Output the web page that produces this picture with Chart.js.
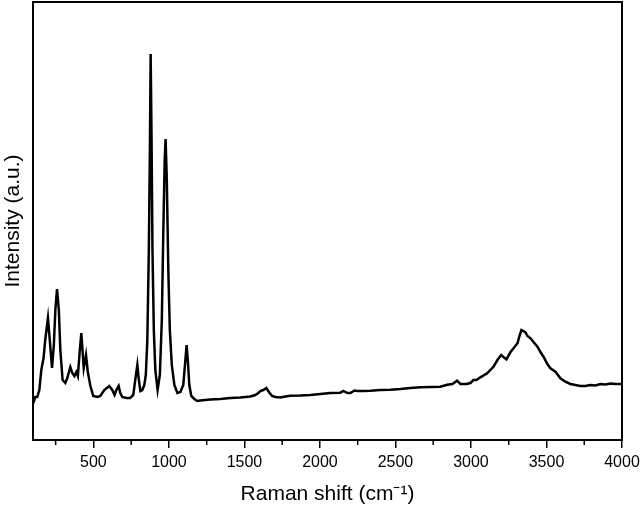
<!DOCTYPE html>
<html lang="en">
<head>
<meta charset="UTF-8">
<title>Raman spectrum</title>
<script src="https://cdn.jsdelivr.net/npm/chart.js"></script>
<style>
  html, body { margin: 0; padding: 0; background: #fff; }
  #wrap { width: 640px; height: 510px; }
</style>
</head>
<body>
<div id="wrap"><canvas id="raman"></canvas></div>
<script>
// Raman shift (cm-1)
const ramanShift = [
  102, 115, 128, 142, 155, 170, 181, 199, 211, 226, 238, 248, 259, 271, 281, 296,
  314, 327, 347, 360, 374, 387, 397, 410, 420, 430, 436, 451, 463, 480, 499, 526,
  546, 572, 605, 625, 640, 652, 667, 678, 691, 718, 744, 764, 777, 791, 801, 811,
  824, 837, 847, 857, 867, 874, 879, 885, 891, 900, 910, 925, 940, 953, 963, 972,
  978, 986, 996, 1006, 1019, 1036, 1056, 1076, 1095, 1109, 1117, 1125, 1135, 1148, 1168, 1188,
  1208, 1241, 1274, 1341, 1407, 1473, 1539, 1572, 1592, 1605, 1625, 1645, 1662, 1683, 1705, 1738,
  1771, 1804, 1870, 1937, 2003, 2069, 2135, 2155, 2182, 2202, 2228, 2248, 2281, 2334, 2400, 2466,
  2533, 2599, 2665, 2731, 2797, 2843, 2877, 2908, 2930, 2970, 2996, 3016, 3036, 3062, 3107, 3129,
  3149, 3175, 3200, 3215, 3235, 3262, 3282, 3308, 3321, 3334, 3347, 3361, 3374, 3394, 3414, 3440,
  3460, 3480, 3506, 3526, 3559, 3592, 3625, 3658, 3691, 3724, 3757, 3790, 3824, 3857, 3890, 3923,
  3956, 3996
];

// intensity (a.u.)
const intensity = [
  37, 43, 43, 50, 70, 82, 100, 122, 100, 72, 95, 130, 151, 130, 90, 60,
  57, 62, 73, 67, 64, 68, 64, 90, 107, 85, 72, 85, 68, 54, 44, 43,
  44, 50, 54, 50, 45, 50, 54, 47, 43, 42, 42, 45, 60, 75, 60, 49,
  50, 55, 65, 100, 190, 290, 386, 300, 190, 110, 70, 50, 65, 120, 210, 280,
  301, 260, 170, 110, 75, 55, 47, 48, 55, 80, 95, 80, 55, 44, 41, 39,
  39.5, 40, 40.5, 41, 42, 42.5, 43.5, 45, 47, 49, 50, 52, 48, 44, 43, 42.5,
  43.5, 44.3, 44.5, 45, 46, 47, 47.3, 49, 47, 47, 49.5, 49, 49, 49.3, 50, 50.3,
  51, 52, 52.7, 53, 53.3, 55.3, 56, 59.3, 56, 56, 57, 60, 60, 62.7, 66.7, 70,
  73.3, 80, 85, 83, 80.7, 88, 91.7, 96.7, 104, 110, 109, 107.7, 104, 101.7, 98, 93.3,
  88, 83.3, 76, 71.7, 68.3, 61.7, 58.3, 56, 55, 54, 54, 55, 54.5, 56, 55.5, 56.5,
  56, 56
];

// axis ticks
const majorTicks = [500, 1000, 1500, 2000, 2500, 3000, 3500, 4000];
const minorTicks = [250, 750, 1250, 1750, 2250, 2750, 3250, 3750];

const FONT = "'Liberation Sans', Arial, sans-serif";

// minor x ticks are shorter than the major ones, plus the closed frame
const minorTickPlugin = {
  id: 'minorTicks',
  afterDraw(chart) {
    const { ctx, chartArea, scales } = chart;
    ctx.save();
    ctx.strokeStyle = '#000';
    ctx.lineWidth = 1.5;
    minorTicks.forEach((v) => {
      const px = scales.x.getPixelForValue(v);
      ctx.beginPath();
      ctx.moveTo(px, chartArea.bottom);
      ctx.lineTo(px, chartArea.bottom + 5);
      ctx.stroke();
    });
    ctx.lineWidth = 2;
    ctx.strokeRect(chartArea.left, chartArea.top, chartArea.right - chartArea.left, chartArea.bottom - chartArea.top);
    ctx.restore();
  }
};

new Chart(document.getElementById('raman'), {
  type: 'line',
  data: {
    datasets: [{
      data: ramanShift.map((x, i) => ({ x, y: intensity[i] })),
      borderColor: '#000',
      borderWidth: 2.5,
      pointRadius: 0,
      tension: 0
    }]
  },
  options: {
    responsive: true,
    maintainAspectRatio: false,
    animation: false,
    layout: { padding: { top: 2, right: 18, bottom: 0, left: 0 } },
    plugins: { legend: { display: false }, tooltip: { enabled: false } },
    scales: {
      x: {
        type: 'linear',
        min: 100,
        max: 4000,
        afterBuildTicks: (scale) => {
          scale.ticks = majorTicks.concat(minorTicks).sort((a, b) => a - b).map((value) => ({ value }));
        },
        afterFit: (scale) => {
          scale.height = 70;
          scale.paddingRight = 0;
          scale.paddingLeft = 0;
        },
        border: { display: true, color: '#000', width: 2 },
        grid: {
          drawOnChartArea: false,
          tickLength: 8,
          lineWidth: 1.5,
          tickColor: (ctx) => (ctx.tick && ctx.tick.value % 500 === 0 ? '#000' : 'rgba(0,0,0,0)')
        },
        ticks: {
          autoSkip: false,
          maxRotation: 0,
          padding: 5,
          color: '#000',
          font: { family: FONT, size: 16 },
          callback: (v) => (v % 500 === 0 ? String(v) : '')
        },
        title: {
          display: true,
          text: 'Raman shift (cm\u207B\u00B9)',
          color: '#000',
          font: { family: FONT, size: 21 },
          padding: { top: 0, bottom: 3 }
        }
      },
      y: {
        min: 0,
        max: 438,
        afterFit: (scale) => { scale.width = 33; },
        border: { display: true, color: '#000', width: 2 },
        grid: { display: false },
        ticks: { display: false },
        title: {
          display: true,
          text: 'Intensity (a.u.)',
          color: '#000',
          font: { family: FONT, size: 21 },
          padding: { top: 1, bottom: 0 }
        }
      }
    }
  },
  plugins: [minorTickPlugin]
});
</script>
</body>
</html>
